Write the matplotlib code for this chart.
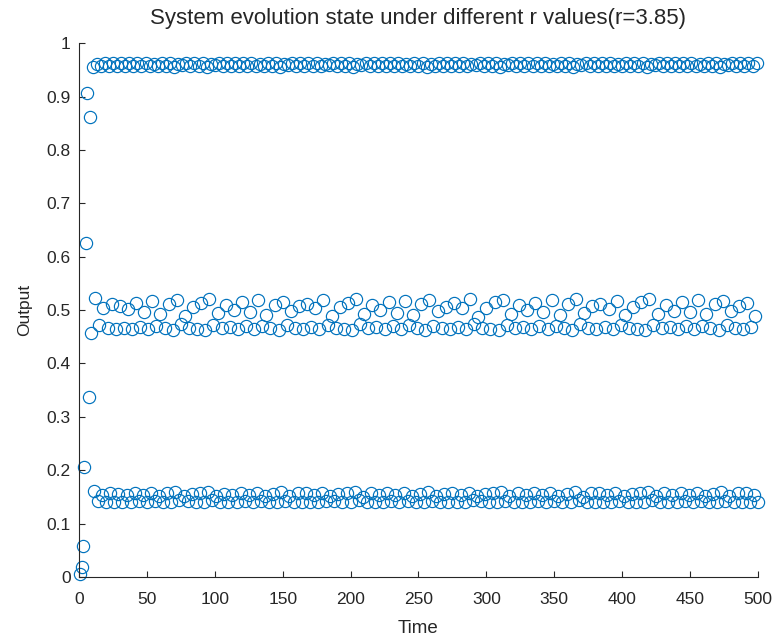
import numpy as np
import matplotlib
matplotlib.use("Agg")
import matplotlib.pyplot as plt

# transient from the small start value, then the 3-band chaotic regime
transient = [0.005, 0.019, 0.058, 0.206, 0.626, 0.907, 0.338, 0.862]
# each row: mid, high, low, mid, high, low
steady = [
    [0.458, 0.956, 0.162, 0.522, 0.961, 0.143],
    [0.472, 0.958, 0.154, 0.503, 0.962, 0.141],
    [0.466, 0.957, 0.157, 0.511, 0.962, 0.140],
    [0.464, 0.957, 0.156, 0.508, 0.962, 0.141],
    [0.467, 0.958, 0.154, 0.502, 0.963, 0.140],
    [0.465, 0.957, 0.157, 0.514, 0.962, 0.142],
    [0.469, 0.958, 0.153, 0.497, 0.962, 0.140],
    [0.464, 0.957, 0.158, 0.517, 0.961, 0.143],
    [0.471, 0.958, 0.152, 0.492, 0.962, 0.141],
    [0.466, 0.957, 0.157, 0.512, 0.962, 0.140],
    [0.463, 0.956, 0.159, 0.519, 0.961, 0.144],
    [0.474, 0.959, 0.151, 0.488, 0.962, 0.142],
    [0.467, 0.958, 0.155, 0.506, 0.962, 0.141],
    [0.465, 0.957, 0.157, 0.513, 0.962, 0.140],
    [0.462, 0.956, 0.160, 0.520, 0.961, 0.144],
    [0.473, 0.959, 0.151, 0.494, 0.962, 0.141],
    [0.466, 0.957, 0.156, 0.509, 0.962, 0.140],
    [0.468, 0.958, 0.154, 0.500, 0.963, 0.141],
    [0.465, 0.957, 0.157, 0.515, 0.962, 0.142],
    [0.470, 0.958, 0.153, 0.496, 0.962, 0.140],
    [0.464, 0.957, 0.158, 0.518, 0.961, 0.143],
    [0.471, 0.958, 0.152, 0.491, 0.962, 0.141],
    [0.467, 0.957, 0.156, 0.510, 0.962, 0.140],
    [0.463, 0.956, 0.159, 0.516, 0.961, 0.143],
    [0.472, 0.959, 0.152, 0.499, 0.963, 0.141],
    [0.466, 0.957, 0.157, 0.507, 0.962, 0.140],
    [0.465, 0.957, 0.157, 0.512, 0.962, 0.141],
    [0.469, 0.958, 0.154, 0.504, 0.962, 0.140],
    [0.464, 0.957, 0.158, 0.519, 0.961, 0.143],
    [0.473, 0.959, 0.151, 0.489, 0.962, 0.142],
    [0.467, 0.958, 0.155, 0.505, 0.962, 0.141],
    [0.465, 0.957, 0.157, 0.514, 0.962, 0.140],
    [0.462, 0.956, 0.160, 0.521, 0.961, 0.144],
    [0.474, 0.959, 0.150, 0.493, 0.962, 0.141],
    [0.466, 0.957, 0.157, 0.510, 0.962, 0.140],
    [0.468, 0.958, 0.154, 0.501, 0.963, 0.141],
    [0.465, 0.957, 0.157, 0.516, 0.962, 0.142],
    [0.470, 0.958, 0.153, 0.495, 0.962, 0.140],
    [0.464, 0.957, 0.158, 0.517, 0.961, 0.143],
    [0.472, 0.958, 0.152, 0.490, 0.962, 0.141],
    [0.466, 0.957, 0.156, 0.511, 0.962, 0.140],
    [0.463, 0.956, 0.159, 0.518, 0.961, 0.143],
    [0.471, 0.958, 0.152, 0.498, 0.963, 0.141],
    [0.467, 0.958, 0.156, 0.506, 0.962, 0.140],
    [0.465, 0.957, 0.157, 0.513, 0.962, 0.141],
    [0.469, 0.958, 0.154, 0.503, 0.962, 0.140],
    [0.464, 0.957, 0.158, 0.520, 0.961, 0.144],
    [0.474, 0.959, 0.151, 0.487, 0.962, 0.142],
    [0.467, 0.958, 0.155, 0.504, 0.962, 0.141],
    [0.465, 0.957, 0.157, 0.515, 0.962, 0.140],
    [0.463, 0.956, 0.159, 0.519, 0.961, 0.143],
    [0.473, 0.959, 0.151, 0.492, 0.962, 0.141],
    [0.466, 0.957, 0.157, 0.509, 0.962, 0.140],
    [0.468, 0.958, 0.154, 0.500, 0.963, 0.141],
    [0.465, 0.957, 0.157, 0.514, 0.962, 0.142],
    [0.470, 0.958, 0.153, 0.497, 0.962, 0.140],
    [0.464, 0.957, 0.158, 0.518, 0.961, 0.143],
    [0.471, 0.958, 0.152, 0.491, 0.962, 0.141],
    [0.466, 0.957, 0.156, 0.511, 0.962, 0.140],
    [0.462, 0.956, 0.160, 0.521, 0.961, 0.144],
    [0.474, 0.959, 0.150, 0.494, 0.962, 0.141],
    [0.466, 0.957, 0.157, 0.508, 0.962, 0.140],
    [0.465, 0.957, 0.157, 0.512, 0.962, 0.141],
    [0.469, 0.958, 0.154, 0.502, 0.963, 0.140],
    [0.464, 0.957, 0.158, 0.517, 0.961, 0.143],
    [0.472, 0.958, 0.152, 0.490, 0.962, 0.141],
    [0.467, 0.958, 0.155, 0.506, 0.962, 0.140],
    [0.465, 0.957, 0.157, 0.515, 0.962, 0.141],
    [0.463, 0.956, 0.159, 0.520, 0.961, 0.144],
    [0.473, 0.959, 0.151, 0.493, 0.962, 0.141],
    [0.466, 0.957, 0.157, 0.510, 0.962, 0.140],
    [0.468, 0.958, 0.154, 0.499, 0.963, 0.141],
    [0.465, 0.957, 0.157, 0.516, 0.962, 0.142],
    [0.470, 0.958, 0.153, 0.496, 0.962, 0.140],
    [0.464, 0.957, 0.158, 0.518, 0.961, 0.143],
    [0.471, 0.958, 0.152, 0.492, 0.962, 0.141],
    [0.466, 0.957, 0.156, 0.511, 0.962, 0.140],
    [0.463, 0.956, 0.159, 0.517, 0.961, 0.143],
    [0.472, 0.959, 0.152, 0.498, 0.963, 0.141],
    [0.466, 0.957, 0.157, 0.507, 0.962, 0.140],
    [0.465, 0.957, 0.157, 0.513, 0.962, 0.141],
    [0.469, 0.958, 0.154, 0.489, 0.962, 0.140],
]
r_value = 3.85

output = np.concatenate([transient, np.ravel(steady)])
time = np.arange(1, len(output) + 1)

plt.rcParams["font.family"] = ["Liberation Sans", "DejaVu Sans"]
fig = plt.figure(figsize=(7.76, 6.44), dpi=100)
ax = fig.add_axes([0.1018, 0.104, 0.875, 0.829])

ax.plot(time, output, "o", mfc="none", mec="#0072BD", ms=8.8, mew=0.85, clip_on=False)

ax.set_xlim(0, 500)
ax.set_ylim(0, 1)
ax.set_xticks(np.arange(0, 501, 50))
ax.set_yticks(np.arange(0, 1.01, 0.1))
ax.set_yticklabels(["0", "0.1", "0.2", "0.3", "0.4", "0.5", "0.6", "0.7", "0.8", "0.9", "1"])

for s in ["top", "right"]:
    ax.spines[s].set_visible(False)
for s in ["left", "bottom"]:
    ax.spines[s].set_color("#262626")
    ax.spines[s].set_linewidth(0.8)
ax.tick_params(direction="in", length=4.5, width=0.8, colors="#262626",
               labelsize=12.5, pad=6)
ax.tick_params(axis="x", pad=11)

ax.set_xlabel("Time", fontsize=13.5, color="#262626", labelpad=9)
ax.set_ylabel("Output", fontsize=12.5, color="#262626", labelpad=10)
ax.set_title("System evolution state under different r values(r=%.2f)" % r_value,
             fontsize=16, color="#262626", pad=14)

fig.savefig("out.png", dpi=100)
